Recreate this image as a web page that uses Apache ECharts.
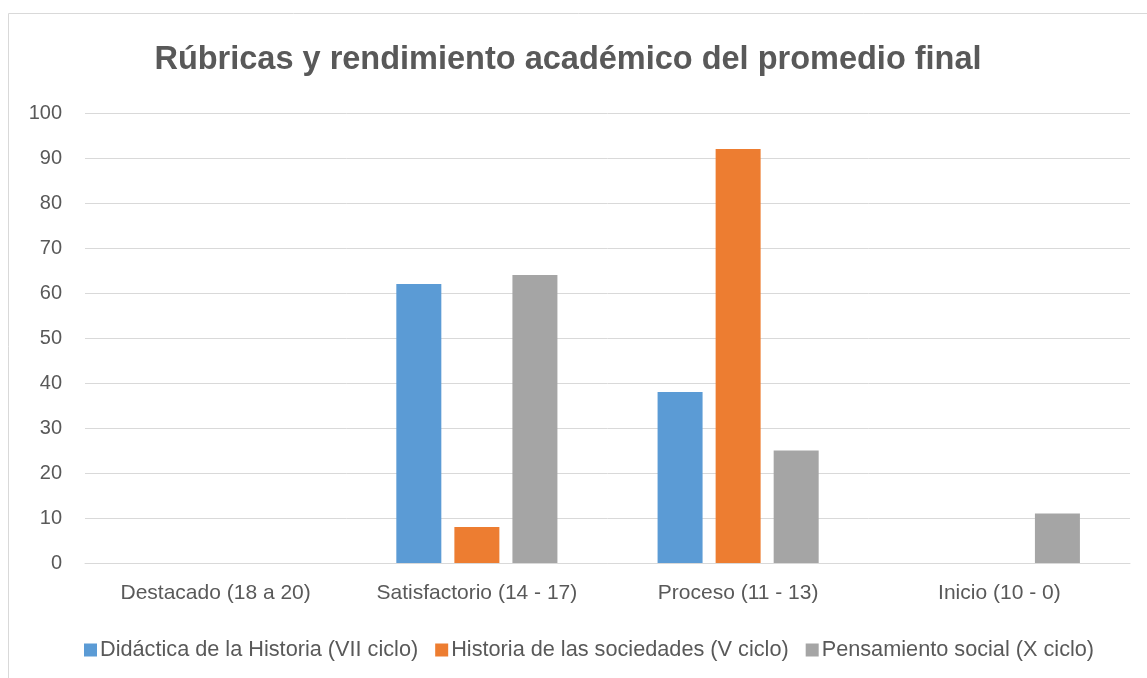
<!DOCTYPE html>
<html>
<head>
<meta charset="utf-8">
<script src="https://cdn.jsdelivr.net/npm/echarts@6/dist/echarts.min.js"></script>
<style>
  html, body { margin: 0; padding: 0; background: #fff; }
  #chart { width: 1147px; height: 678px; }
</style>
</head>
<body>
<div id="chart"></div>
<script>
const categories = [
  'Destacado (18 a 20)',
  'Satisfactorio (14 - 17)',
  'Proceso (11 - 13)',
  'Inicio (10 - 0)',
]
const seriesNames = [
  'Didáctica de la Historia (VII ciclo)',
  'Historia de las sociedades (V ciclo)',
  'Pensamiento social (X ciclo)',
]
const didactica = [0, 62, 38, 0]
const sociedades = [0, 8, 92, 0]
const pensamiento = [0, 64, 25, 11]
const colors = ['#5B9BD5', '#ED7D31', '#A5A5A5']

const font = '"Liberation Sans", Arial, sans-serif'
const chart = echarts.init(document.getElementById('chart'))

const seriesData = [didactica, sociedades, pensamiento]

chart.setOption({
  animation: false,
  textStyle: { fontFamily: font },
  graphic: [
    {
      // outer chart border (only left/top visible)
      type: 'rect',
      shape: { x: 8.5, y: 13.5, width: 1200, height: 700 },
      style: { fill: 'none', stroke: '#d9d9d9', lineWidth: 1 },
      silent: true,
    },
  ],
  title: {
    text: 'Rúbricas y rendimiento académico del promedio final',
    left: 563,
    textAlign: 'center',
    top: 39,
    textStyle: {
      fontFamily: font,
      fontSize: 32.5,
      fontWeight: 'bold',
      color: '#595959',
    },
  },
  grid: { left: 85, right: 17, top: 113, bottom: 115 },
  legend: {
    data: seriesNames,
    left: 79,
    top: 634,
    itemWidth: 13,
    itemHeight: 13,
    itemGap: 17,
    icon: 'rect',
    textStyle: { fontFamily: font, fontSize: 21.7, color: '#595959', padding: [0, 0, 0, -2] },
  },
  xAxis: {
    type: 'category',
    data: categories,
    axisTick: { show: false },
    axisLine: { lineStyle: { color: '#d9d9d9', width: 1 } },
    axisLabel: { margin: 20, fontSize: 21, color: '#595959', fontFamily: font },
  },
  yAxis: {
    type: 'value',
    min: 0,
    max: 100,
    interval: 10,
    axisLine: { show: false },
    axisTick: { show: false },
    splitLine: { lineStyle: { color: '#d9d9d9', width: 1 } },
    axisLabel: { margin: 23, fontSize: 20, color: '#595959', fontFamily: font },
  },
  series: seriesNames.map((name, i) => ({
    name: name,
    type: 'bar',
    data: seriesData[i],
    barWidth: 45,
    barGap: '29%',
    itemStyle: { color: colors[i] },
  })),
})
</script>
</body>
</html>
